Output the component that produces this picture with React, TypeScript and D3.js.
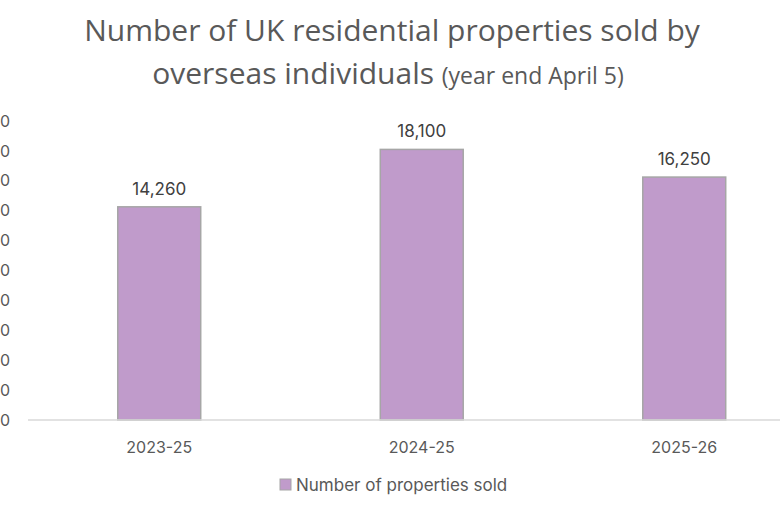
import React from "react";
import * as d3 from "d3";

const categories = ["2023-25", "2024-25", "2025-26"];
const values = [14260, 18100, 16250];
const yTicks = [0, 2000, 4000, 6000, 8000, 10000, 12000, 14000, 16000, 18000, 20000];
const seriesName = "Number of properties sold";

export default function App() {
  const W = 780, H = 507;
  const x = d3.scaleBand().domain(categories).range([28, 815.5]).paddingInner(0.684).paddingOuter(0.342);
  const y = d3.scaleLinear().domain([0, 20000]).range([420, 121]);
  const fmt = d3.format(",");
  const textColor = "#595959";
  const font = "Inter, Liberation Sans";
  return (
    <svg width={W} height={H} style={{ position: "absolute", left: 0, top: 0 }}>
      <rect width={W} height={H} fill="#ffffff" />
      <text x={392} y={41} textAnchor="middle" fontFamily="Open Sans" fontSize={30} fill={textColor}>
        Number of UK residential properties sold by
      </text>
      <text x={388} y={84} textAnchor="middle" fontFamily="Open Sans" fill={textColor}>
        <tspan fontSize={30}>overseas individuals </tspan>
        <tspan fontSize={23}>(year end April 5)</tspan>
      </text>
      {yTicks.map((t) => (
        <text key={t} x={10} y={y(t)} dy="0.35em" textAnchor="end" fontFamily={font} fontSize={16} fill={textColor}>
          {fmt(t)}
        </text>
      ))}
      {categories.map((c, i) => (
        <g key={c}>
          <rect x={x(c)} y={y(values[i])} width={x.bandwidth()} height={y(0) - y(values[i])} fill="#c09bcb" stroke="#a6a6a6" strokeWidth={1.5} />
          <text x={(x(c) as number) + x.bandwidth() / 2} y={y(values[i]) - 12} textAnchor="middle" fontFamily={font} fontSize={17} fill="#404040">
            {fmt(values[i])}
          </text>
          <text x={(x(c) as number) + x.bandwidth() / 2} y={453} textAnchor="middle" fontFamily={font} fontSize={16} fill={textColor}>
            {c}
          </text>
        </g>
      ))}
      <line x1={28} x2={W} y1={y(0)} y2={y(0)} stroke="#d9d9d9" strokeWidth={1.5} />
      <rect x={280} y={479} width={11} height={11} fill="#c09bcb" stroke="#a6a6a6" strokeWidth={1} />
      <text x={296} y={491} fontFamily={font} fontSize={17} fill={textColor}>
        {seriesName}
      </text>
    </svg>
  );
}
